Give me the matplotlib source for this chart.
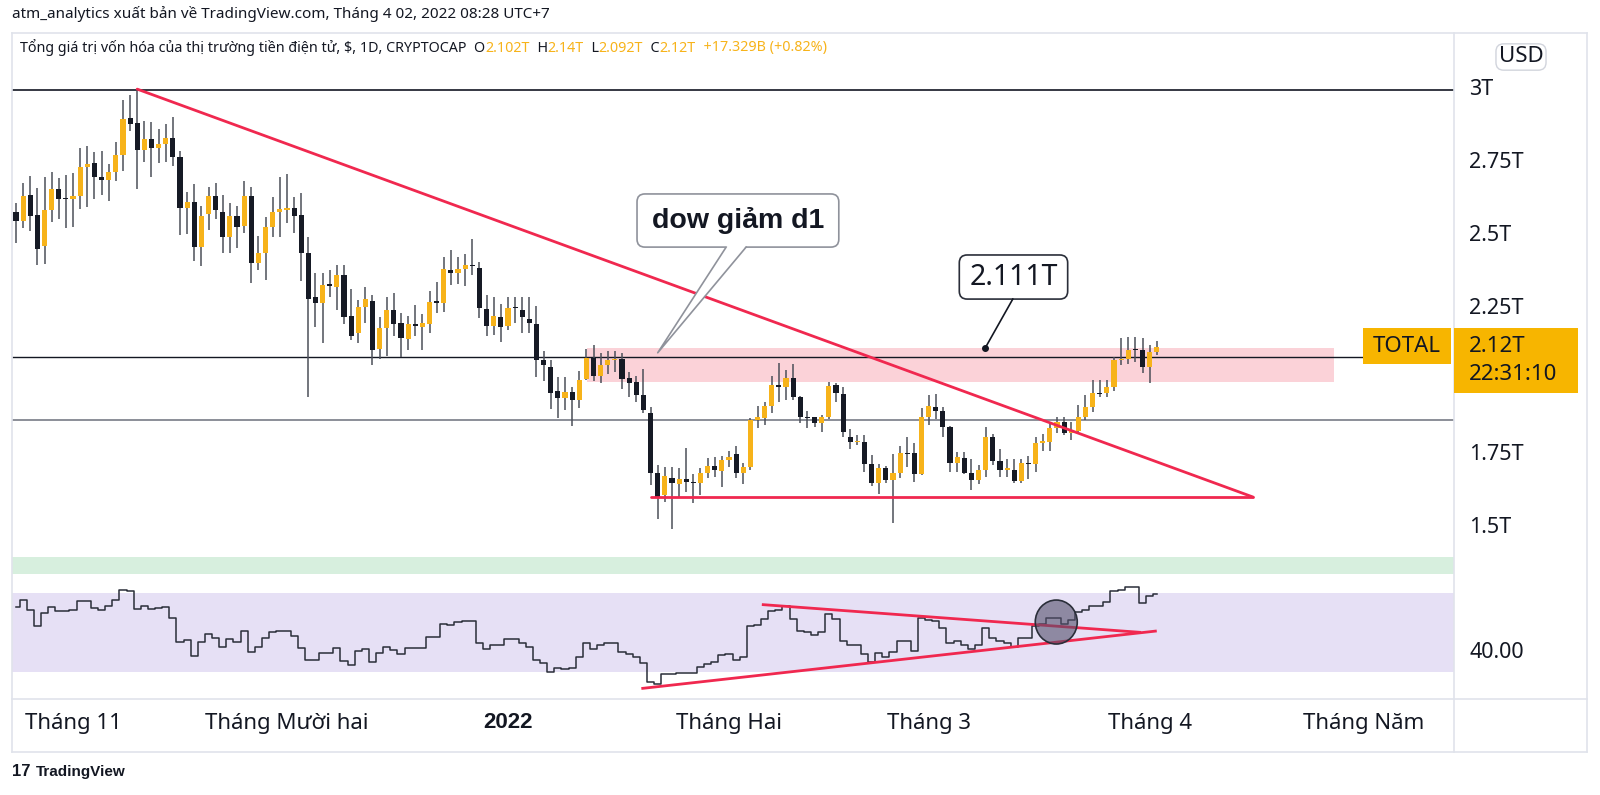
import numpy as np
import pandas as pd
import matplotlib
matplotlib.use('Agg')
import matplotlib.pyplot as plt
import matplotlib.transforms as mtransforms
from matplotlib.patches import Rectangle, Ellipse, FancyBboxPatch, Polygon
from matplotlib.lines import Line2D

plt.rcParams['font.family'] = ['Noto Sans', 'DejaVu Sans']
BOLD_FONT = ['Liberation Sans', 'DejaVu Sans']

# Total crypto market cap, daily candles (trillion USD)
dates = pd.date_range('2021-10-24', '2022-04-02', freq='D')

opens = [2.581, 2.553, 2.640, 2.572, 2.467, 2.589, 2.662, 2.628, 2.626, 2.637,
         2.737, 2.749, 2.701, 2.692, 2.719, 2.776, 2.903, 2.888, 2.795, 2.831,
         2.803, 2.814, 2.834, 2.772, 2.596, 2.615, 2.463, 2.575, 2.638, 2.583,
         2.498, 2.568, 2.534, 2.638, 2.406, 2.441, 2.532, 2.581, 2.589, 2.595,
         2.572, 2.443, 2.292, 2.272, 2.332, 2.327, 2.368, 2.226, 2.167, 2.256,
         2.279, 2.112, 2.186, 2.247, 2.201, 2.148, 2.199, 2.190, 2.199, 2.275,
         2.270, 2.383, 2.372, 2.386, 2.399, 2.389, 2.250, 2.192, 2.222, 2.192,
         2.255, 2.247, 2.215, 2.199, 2.075, 2.050, 1.970, 1.944, 1.967, 1.939,
         2.009, 2.082, 2.021, 2.058, 2.075, 2.079, 2.012, 2.000, 1.956, 1.893,
         1.690, 1.613, 1.672, 1.651, 1.667, 1.658, 1.653, 1.688, 1.711, 1.695,
         1.733, 1.752, 1.688, 1.708, 1.870, 1.877, 1.918, 1.990, 1.984, 2.012,
         1.947, 1.879, 1.879, 1.858, 1.881, 1.990, 1.960, 1.813, 1.795, 1.796,
         1.719, 1.653, 1.704, 1.666, 1.688, 1.756, 1.756, 1.685, 1.879, 1.916,
         1.899, 1.845, 1.721, 1.740, 1.687, 1.666, 1.698, 1.810, 1.730, 1.698,
         1.700, 1.662, 1.721, 1.719, 1.792, 1.796, 1.841, 1.864, 1.824, 1.833,
         1.879, 1.913, 1.963, 1.961, 1.984, 2.075, 2.078, 2.110, 2.110, 2.053,
         2.102]
highs = [2.614, 2.683, 2.705, 2.666, 2.703, 2.720, 2.697, 2.709, 2.717, 2.800,
         2.809, 2.788, 2.790, 2.747, 2.823, 2.966, 2.983, 3.005, 2.895, 2.890,
         2.865, 2.885, 2.906, 2.790, 2.652, 2.678, 2.603, 2.667, 2.680, 2.640,
         2.614, 2.603, 2.689, 2.669, 2.500, 2.564, 2.632, 2.701, 2.713, 2.635,
         2.648, 2.498, 2.372, 2.372, 2.384, 2.401, 2.401, 2.318, 2.281, 2.324,
         2.298, 2.224, 2.292, 2.304, 2.235, 2.226, 2.265, 2.234, 2.313, 2.344,
         2.429, 2.452, 2.427, 2.438, 2.489, 2.412, 2.298, 2.292, 2.267, 2.290,
         2.290, 2.290, 2.290, 2.261, 2.107, 2.075, 2.018, 2.018, 1.984, 2.036,
         2.113, 2.127, 2.098, 2.107, 2.107, 2.098, 2.035, 2.020, 2.046, 1.915,
         1.716, 1.710, 1.710, 1.705, 1.775, 1.686, 1.705, 1.740, 1.743, 1.747,
         1.762, 1.781, 1.724, 1.876, 1.918, 1.930, 2.020, 2.066, 2.041, 2.061,
         1.952, 1.902, 1.881, 1.887, 2.001, 1.998, 1.984, 1.838, 1.818, 1.818,
         1.750, 1.719, 1.712, 1.753, 1.781, 1.810, 1.790, 1.910, 1.955, 1.959,
         1.914, 1.850, 1.761, 1.761, 1.735, 1.715, 1.845, 1.822, 1.769, 1.738,
         1.738, 1.738, 1.746, 1.812, 1.822, 1.864, 1.881, 1.881, 1.864, 1.921,
         1.955, 2.007, 2.007, 2.007, 2.087, 2.149, 2.155, 2.155, 2.149, 2.125,
         2.140]
lows = [2.477, 2.526, 2.518, 2.400, 2.404, 2.547, 2.557, 2.529, 2.530, 2.591,
        2.598, 2.627, 2.640, 2.621, 2.688, 2.724, 2.860, 2.660, 2.753, 2.703,
        2.751, 2.752, 2.741, 2.505, 2.507, 2.414, 2.397, 2.521, 2.557, 2.443,
        2.441, 2.459, 2.511, 2.340, 2.384, 2.349, 2.498, 2.495, 2.545, 2.509,
        2.347, 1.950, 2.187, 2.132, 2.290, 2.247, 2.199, 2.144, 2.132, 2.201,
        2.058, 2.078, 2.089, 2.156, 2.087, 2.110, 2.158, 2.110, 2.169, 2.237,
        2.241, 2.332, 2.335, 2.328, 2.368, 2.218, 2.158, 2.161, 2.138, 2.178,
        2.201, 2.167, 2.169, 2.018, 2.002, 1.908, 1.878, 1.904, 1.850, 1.910,
        2.007, 2.002, 1.998, 2.027, 2.035, 1.975, 1.948, 1.930, 1.895, 1.648,
        1.530, 1.590, 1.496, 1.602, 1.624, 1.585, 1.613, 1.671, 1.675, 1.641,
        1.708, 1.671, 1.651, 1.697, 1.844, 1.854, 1.895, 1.932, 1.938, 1.938,
        1.860, 1.842, 1.847, 1.829, 1.872, 1.932, 1.812, 1.772, 1.783, 1.693,
        1.644, 1.617, 1.655, 1.516, 1.671, 1.710, 1.659, 1.682, 1.853, 1.872,
        1.813, 1.693, 1.693, 1.685, 1.630, 1.651, 1.675, 1.716, 1.675, 1.675,
        1.653, 1.653, 1.667, 1.693, 1.765, 1.765, 1.826, 1.818, 1.801, 1.826,
        1.870, 1.898, 1.947, 1.947, 1.970, 2.058, 2.060, 2.068, 2.030, 1.996,
        2.092]
closes = [2.553, 2.638, 2.570, 2.454, 2.589, 2.662, 2.628, 2.626, 2.637, 2.737,
          2.747, 2.701, 2.692, 2.719, 2.776, 2.902, 2.882, 2.795, 2.831, 2.803,
          2.814, 2.834, 2.772, 2.596, 2.616, 2.463, 2.570, 2.637, 2.589, 2.498,
          2.568, 2.532, 2.637, 2.406, 2.441, 2.532, 2.581, 2.591, 2.597, 2.568,
          2.441, 2.284, 2.272, 2.332, 2.330, 2.368, 2.224, 2.158, 2.256, 2.283,
          2.110, 2.186, 2.247, 2.199, 2.150, 2.199, 2.192, 2.201, 2.275, 2.272,
          2.386, 2.374, 2.386, 2.399, 2.397, 2.253, 2.192, 2.226, 2.188, 2.255,
          2.252, 2.222, 2.203, 2.075, 2.058, 1.963, 1.944, 1.967, 1.939, 2.007,
          2.082, 2.021, 2.058, 2.075, 2.079, 2.009, 1.998, 1.956, 1.904, 1.688,
          1.605, 1.678, 1.653, 1.667, 1.658, 1.655, 1.688, 1.713, 1.700, 1.733,
          1.743, 1.688, 1.708, 1.870, 1.879, 1.918, 1.990, 1.984, 2.012, 1.949,
          1.879, 1.877, 1.858, 1.881, 1.986, 1.963, 1.829, 1.795, 1.799, 1.719,
          1.653, 1.704, 1.666, 1.688, 1.756, 1.753, 1.685, 1.879, 1.918, 1.899,
          1.845, 1.721, 1.744, 1.689, 1.666, 1.698, 1.810, 1.730, 1.698, 1.704,
          1.662, 1.721, 1.719, 1.792, 1.798, 1.841, 1.864, 1.824, 1.835, 1.879,
          1.913, 1.961, 1.960, 1.984, 2.075, 2.078, 2.110, 2.109, 2.053, 2.102,
          2.120]

# RSI
rsi = [62.9, 66.6, 61.6, 53.1, 59.9, 62.7, 61.1, 60.7, 61.6, 66.1,
       66.1, 62.4, 61.6, 63.2, 66.6, 71.7, 70.8, 61.9, 63.6, 61.9,
       62.4, 62.9, 57.3, 45.4, 46.3, 38.1, 45.4, 49.3, 47.1, 42.5,
       46.6, 45.4, 51.0, 40.3, 42.5, 47.1, 50.0, 50.7, 50.7, 48.0,
       42.0, 36.1, 36.1, 39.8, 39.8, 42.0, 35.8, 33.6, 40.8, 41.5,
       35.3, 39.5, 42.9, 41.2, 39.2, 42.0, 42.0, 42.0, 47.6, 47.6,
       54.4, 53.9, 55.1, 55.6, 55.6, 44.9, 41.5, 43.7, 43.7, 46.6,
       46.6, 44.6, 42.9, 36.1, 34.7, 30.2, 31.9, 31.4, 31.9, 37.8,
       44.9, 41.5, 43.7, 44.9, 44.9, 40.3, 39.0, 37.8, 34.4, 25.0,
       24.0, 28.8, 28.8, 29.3, 29.7, 29.7, 32.7, 34.1, 35.3, 38.6,
       39.2, 36.1, 37.8, 53.1, 53.9, 56.8, 60.7, 61.5, 63.2, 56.8,
       51.0, 50.5, 48.8, 50.5, 59.5, 56.8, 45.8, 43.7, 43.7, 39.2,
       35.3, 39.5, 37.8, 40.3, 45.9, 45.9, 40.8, 57.3, 56.1, 55.6,
       52.2, 44.6, 45.9, 43.7, 41.5, 43.7, 52.2, 47.1, 45.9, 44.9,
       42.5, 47.1, 47.1, 53.1, 54.4, 57.3, 57.3, 54.4, 56.4, 60.2,
       61.2, 63.2, 63.2, 65.3, 70.8, 71.4, 73.1, 73.1, 64.9, 68.6,
       69.5]

# drawings (bar index, value)
resistance_line = [(17.0, 3.003), (173.5, 1.606)]
support_line = [(89.1, 1.606), (173.5, 1.606)]
top_level = 3.0
mid_level = 2.087
low_level = 1.87
zone = (80.1, 184.8, 2.001, 2.116)
rsi_upper = [(104.8, 64.1), (157.6, 50.1)]
rsi_lower = [(87.9, 21.7), (159.8, 50.7)]
rsi_circle = (145.9, 55.3)
callout_box = (87.1, 115.4, 2.462, 2.644)
callout_tip = (90.0, 2.100)
callout_base = (99.6, 102.4)
label_box = (132.3, 147.5, 2.284, 2.435)
label_point = (135.9, 2.115)
label_anchor_x = 139.8

price_ticks = [3.0, 2.75, 2.5, 2.25, 1.75, 1.5]
price_tick_labels = ['3T', '2.75T', '2.5T', '2.25T', '1.75T', '1.5T']
month_labels = ['Tháng 11', 'Tháng Mười hai', '2022', 'Tháng Hai',
                'Tháng 3', 'Tháng 4', 'Tháng Năm']

UP = '#f7b31a'
DOWN = '#161a25'
WICK = '#4c4f59'
RED = '#f0284f'
TEXT = '#131722'
GRID = '#e0e3eb'

W, H = 1600, 795
fig = plt.figure(figsize=(W / 100, H / 100), dpi=100)
fig.patch.set_facecolor('white')


def fbox(left, top, right, bottom):
    return [left / W, 1 - bottom / H, (right - left) / W, (bottom - top) / H]


ax = fig.add_axes(fbox(12, 33, 1454, 550))
ax_rsi = fig.add_axes(fbox(12, 550, 1454, 699), sharex=ax)
for a in (ax, ax_rsi):
    a.set_facecolor('none')
    for s in a.spines.values():
        s.set_visible(False)
    a.tick_params(left=False, bottom=False, labelleft=False, labelbottom=False)

px_per_bar = 7.13
px_per_T = 292.0
ax.set_xlim(-4 / px_per_bar, (1454 - 16) / px_per_bar)
ax.set_ylim(3 - (550 - 90) / px_per_T, 3 - (33 - 90) / px_per_T)
ax_rsi.set_ylim(16.3, 91.8)

idx = np.arange(len(dates))
o = np.array(opens)
h = np.array(highs)
l = np.array(lows)
c = np.array(closes)
up = c >= o

# zone and levels
z0, z1, zlo, zhi = zone
ax.add_patch(Rectangle((z0, zlo), z1 - z0, zhi - zlo, fc='#fbd2d8', ec='none', zorder=1))
ax.axhline(top_level, color=TEXT, lw=1.2, zorder=2)
ax.hlines(mid_level, ax.get_xlim()[0], (1363 - 16) / px_per_bar, color=TEXT, lw=1.0, zorder=2)
ax.axhline(low_level, color='#787b86', lw=1.2, zorder=2)

# candles
ax.vlines(idx, l, h, color=WICK, lw=1.1, zorder=3)
body_h = np.maximum(np.abs(c - o), 0.004)
ax.bar(idx, body_h, bottom=np.minimum(o, c), width=0.72,
       color=np.where(up, UP, DOWN), lw=0, zorder=4)

# trend lines
ax.plot(*zip(*resistance_line), color=RED, lw=2.0, zorder=5, solid_capstyle='round')
ax.plot(*zip(*support_line), color=RED, lw=2.0, zorder=5, solid_capstyle='round')

# callout "dow giam d1"
bx0, bx1, by0, by1 = callout_box
aspect = (8 / px_per_T) / (8 / px_per_bar)
ax.add_patch(FancyBboxPatch((bx0, by0), bx1 - bx0, by1 - by0,
                            boxstyle='round,pad=0,rounding_size=1.1', mutation_aspect=aspect,
                            fc='white', ec='#8f929b', lw=1.2, zorder=6))
tail = [(callout_base[0], by0 + 0.004), callout_tip, (callout_base[1], by0 + 0.004)]
ax.add_patch(Polygon(tail, closed=True, fc='white', ec='none', zorder=7))
ax.plot([callout_base[0], callout_tip[0], callout_base[1]],
        [by0, callout_tip[1], by0], color='#8f929b', lw=1.2, zorder=7)
ax.text((bx0 + bx1) / 2, (by0 + by1) / 2, 'dow giảm d1', ha='center', va='center',
        fontsize=20.5, fontweight='bold', family=BOLD_FONT, color=TEXT, zorder=8)

# label "2.111T"
lx0, lx1, ly0, ly1 = label_box
ax.add_patch(FancyBboxPatch((lx0, ly0), lx1 - lx0, ly1 - ly0,
                            boxstyle='round,pad=0,rounding_size=1.1', mutation_aspect=aspect,
                            fc='white', ec='#2a2e39', lw=1.2, zorder=6))
ax.text((lx0 + lx1) / 2, (ly0 + ly1) / 2, '2.111T', ha='center', va='center',
        fontsize=20.5, color=TEXT, zorder=8)
ax.plot([label_anchor_x, label_point[0]], [ly0, label_point[1]], color=TEXT, lw=1.2, zorder=6)
ax.plot(*label_point, 'o', ms=4, color=TEXT, zorder=6)

# RSI pane
ax_rsi.axhspan(79.6, 88.2, color='#d7efde', lw=0, zorder=0)
ax_rsi.axhspan(30, 70, color='#e6e0f5', lw=0, zorder=0)
ax_rsi.step(idx, rsi, where='mid', color='#2a2e39', lw=1.1, zorder=3)
ax_rsi.plot(*zip(*rsi_upper), color=RED, lw=2.0, zorder=4)
ax_rsi.plot(*zip(*rsi_lower), color=RED, lw=2.0, zorder=4)
ax_rsi.add_patch(Ellipse(rsi_circle, 42 / px_per_bar, 44 / 1.975,
                         fc=(0.33, 0.31, 0.42, 0.6), ec='#2a2e39', lw=1.2, zorder=5))

# time axis labels
tx = mtransforms.blended_transform_factory(ax_rsi.transData, fig.transFigure)
month_starts = pd.date_range('2021-11-01', '2022-05-01', freq='MS')
for d, lab in zip(month_starts, month_labels):
    pos = (d - dates[0]).days
    if lab == '2022':
        fig.text(pos, 1 - 723 / H, lab, transform=tx, ha='center', va='center', fontsize=16,
                 color=TEXT, fontweight='bold', family=BOLD_FONT)
    else:
        fig.text(pos, 1 - 723 / H, lab, transform=tx, ha='center', va='center', fontsize=16,
                 color=TEXT)

# price axis labels
ty = mtransforms.blended_transform_factory(fig.transFigure, ax.transData)
for v, lab in zip(price_ticks, price_tick_labels):
    fig.text(1469 / W, v, lab, transform=ty, ha='left', va='center', fontsize=15.5, color=TEXT)
ty2 = mtransforms.blended_transform_factory(fig.transFigure, ax_rsi.transData)
fig.text(1469 / W, 40, '40.00', transform=ty2, ha='left', va='center', fontsize=15.5, color=TEXT)

# last price labels
fig.add_artist(Rectangle((1363 / W, 1 - 364 / H), 88 / W, 36 / H, transform=fig.transFigure,
                         fc='#f7b500', ec='none', zorder=10))
fig.text(1407 / W, 1 - 346 / H, 'TOTAL', ha='center', va='center', fontsize=16, color=TEXT, zorder=11)
fig.add_artist(Rectangle((1454 / W, 1 - 393 / H), 124 / W, 65 / H, transform=fig.transFigure,
                         fc='#f7b500', ec='none', zorder=10))
fig.text(1469 / W, 1 - 346 / H, '2.12T', ha='left', va='center', fontsize=16, color=TEXT, zorder=11)
fig.text(1469 / W, 1 - 375 / H, '22:31:10', ha='left', va='center', fontsize=16, color=TEXT, zorder=11)

fig.text(1521 / W, 1 - 57 / H, 'USD', ha='center', va='center', fontsize=16, color=TEXT,
         bbox=dict(boxstyle='round,pad=0.12,rounding_size=0.35', fc='white', ec='#d1d4dc', lw=1))

# frame
for xs, ys in [([12, 1587], [33, 33]), ([12, 1587], [752, 752]), ([12, 12], [33, 752]),
               ([1587, 1587], [33, 752]), ([1454, 1454], [33, 752]), ([12, 1587], [699, 699])]:
    fig.add_artist(Line2D([x / W for x in xs], [1 - y / H for y in ys], color=GRID, lw=1.2))

# header texts
fig.text(12 / W, 1 - 14 / H, 'atm_analytics xuất bản về TradingView.com, Tháng 4 02, 2022 08:28 UTC+7',
         ha='left', va='center', fontsize=11, color=TEXT)

renderer = fig.canvas.get_renderer()
parts = [('Tổng giá trị vốn hóa của thị trường tiền điện tử, $, 1D, CRYPTOCAP  O', TEXT),
         ('2.102T', UP), ('  H', TEXT), ('2.14T', UP), ('  L', TEXT), ('2.092T', UP),
         ('  C', TEXT), ('2.12T', UP), ('  +17.329B (+0.82%)', UP)]
x = 20
for s, col in parts:
    t = fig.text(x / W, 1 - 48 / H, s, ha='left', va='center', fontsize=10.3, color=col)
    x += t.get_window_extent(renderer=renderer).width

fig.text(12 / W, 1 - 772 / H, '17', ha='left', va='center', fontsize=12, fontweight='bold',
         family=BOLD_FONT, color=TEXT)
fig.text(36 / W, 1 - 772 / H, 'TradingView', ha='left', va='center', fontsize=11,
         fontweight='bold', family=BOLD_FONT, color=TEXT)

fig.savefig('out.png', dpi=100, facecolor='white')
